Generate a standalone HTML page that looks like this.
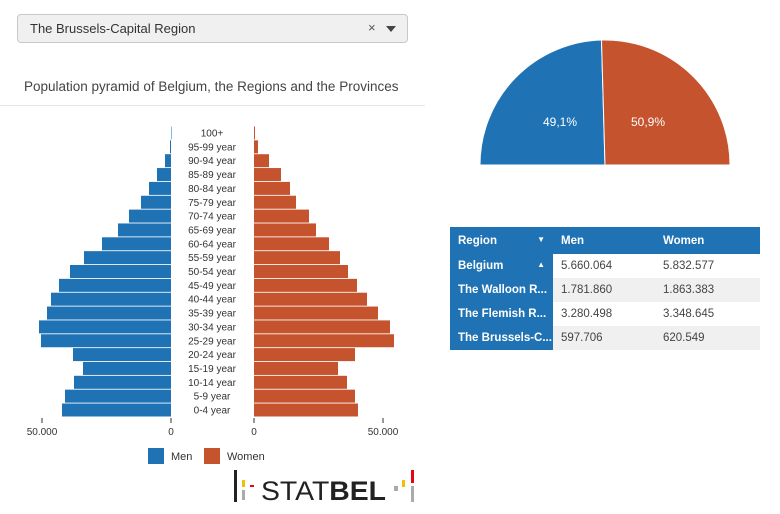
<!DOCTYPE html><html><head><style>
body{margin:0;width:780px;height:514px;background:#fff;font-family:"Liberation Sans",sans-serif;position:relative;overflow:hidden}
.dd{position:absolute;left:17px;top:14px;width:389px;height:27px;border:1px solid #c8c8c8;border-radius:4px;background:#f0f0f0;font-size:13px;color:#333}
.t{position:absolute;font-size:12px;color:#444}
table{position:absolute;left:450px;top:227px;border-collapse:collapse;font-size:11.5px;table-layout:fixed;width:310px}
td{height:24px;padding:0 0 0 8px;white-space:nowrap;overflow:hidden;text-overflow:ellipsis}
tr.hd td{height:27px}
td.h{background:#1f72b4;color:#fff;font-weight:bold}
</style></head><body>
<div class="dd"><span style="position:absolute;left:12px;top:6px">The Brussels-Capital Region</span><span style="position:absolute;left:350px;top:5px;color:#555">×</span><span style="position:absolute;left:368px;top:11px;border-left:5px solid transparent;border-right:5px solid transparent;border-top:6px solid #444"></span></div>
<div class="t" style="left:24px;top:79px;font-size:13.5px;color:#444">Population pyramid of Belgium, the Regions and the Provinces</div>
<div style="position:absolute;left:0;top:105px;width:425px;height:1px;background:#e6e6e6"></div>
<svg width="780" height="514" style="position:absolute;left:0;top:0" font-family="Liberation Sans" font-size="10" fill="#333">
<g id="bars"></g>
<line x1="171" y1="418" x2="171" y2="423" stroke="#333"/><line x1="42" y1="418" x2="42" y2="423" stroke="#333"/>
<line x1="254" y1="418" x2="254" y2="423" stroke="#333"/><line x1="383" y1="418" x2="383" y2="423" stroke="#333"/>
<text x="42" y="435" text-anchor="middle">50.000</text><text x="171" y="435" text-anchor="middle">0</text>
<text x="254" y="435" text-anchor="middle">0</text><text x="383" y="435" text-anchor="middle">50.000</text>
<rect x="148" y="448" width="16" height="16" fill="#1f72b4"/><text x="171" y="460" font-size="11">Men</text>
<rect x="204" y="448" width="16" height="16" fill="#c4532e"/><text x="227" y="460" font-size="11">Women</text>
<path d="M605,165 L480,165 A125,125 0 0 1 601.5,40 Z" fill="#1f72b4" stroke="#fff"/>
<path d="M605,165 L601.5,40 A125,125 0 0 1 730,165 Z" fill="#c4532e" stroke="#fff"/>
<text x="560" y="126" fill="#fff" font-size="12" text-anchor="middle">49,1%</text>
<text x="648" y="126" fill="#fff" font-size="12" text-anchor="middle">50,9%</text>
<rect x="234" y="470" width="3" height="32" fill="#222"/><rect x="242" y="480" width="3" height="7" fill="#f2c200"/><rect x="250" y="485" width="4" height="2" fill="#e30613"/><rect x="242" y="490" width="3" height="10" fill="#aaa"/>
<text x="261" y="500" font-size="27" fill="#222" textLength="125" lengthAdjust="spacingAndGlyphs">STAT<tspan font-weight="bold">BEL</tspan></text>
<rect x="394" y="486" width="4" height="5" fill="#aaa"/><rect x="402" y="480" width="3" height="7" fill="#f2c200"/><rect x="411" y="470" width="3" height="13" fill="#e30613"/><rect x="411" y="486" width="3" height="16" fill="#aaa"/>
</svg>
<table>
<colgroup><col style="width:103px"><col style="width:102px"><col style="width:105px"></colgroup>
<tr class="hd"><td class="h">Region <span style="float:right;margin-right:8px;font-size:8px">▼</span></td><td class="h">Men</td><td class="h">Women</td></tr>
<tr><td class="h">Belgium <span style="float:right;margin-right:8px;font-size:8px">▲</span></td><td style="color:#444">5.660.064</td><td style="color:#444">5.832.577</td></tr>
<tr><td class="h">The Walloon R...</td><td style="background:#f0f0f0;color:#444">1.781.860</td><td style="background:#f0f0f0;color:#444">1.863.383</td></tr>
<tr><td class="h">The Flemish R...</td><td style="color:#444">3.280.498</td><td style="color:#444">3.348.645</td></tr>
<tr><td class="h">The Brussels-C...</td><td style="background:#f0f0f0;color:#444">597.706</td><td style="background:#f0f0f0;color:#444">620.549</td></tr>
</table>
<script>
var L=[171,170,165,157,149,141,129,118,102,84,70,59,51,47,39,41,73,83,74,65,62];
var R=[255,258,269,281,290,296,309,316,329,340,348,357,367,378,390,394,355,338,347,355,358];
var lab=["100+","95-99 year","90-94 year","85-89 year","80-84 year","75-79 year","70-74 year","65-69 year","60-64 year","55-59 year","50-54 year","45-49 year","40-44 year","35-39 year","30-34 year","25-29 year","20-24 year","15-19 year","10-14 year","5-9 year","0-4 year"];
var s="";for(var i=0;i<21;i++){var y=126.5+i*13.85;
s+='<rect x="'+L[i]+'" y="'+y+'" width="'+Math.max(171-L[i],0.5)+'" height="13" fill="#1f72b4"/>';
s+='<rect x="254" y="'+y+'" width="'+(R[i]-254)+'" height="13" fill="#c4532e"/>';
s+='<text x="212" y="'+(y+10)+'" text-anchor="middle" font-size="10">'+lab[i]+'</text>';}
document.getElementById("bars").innerHTML=s;
</script>
</body></html>
